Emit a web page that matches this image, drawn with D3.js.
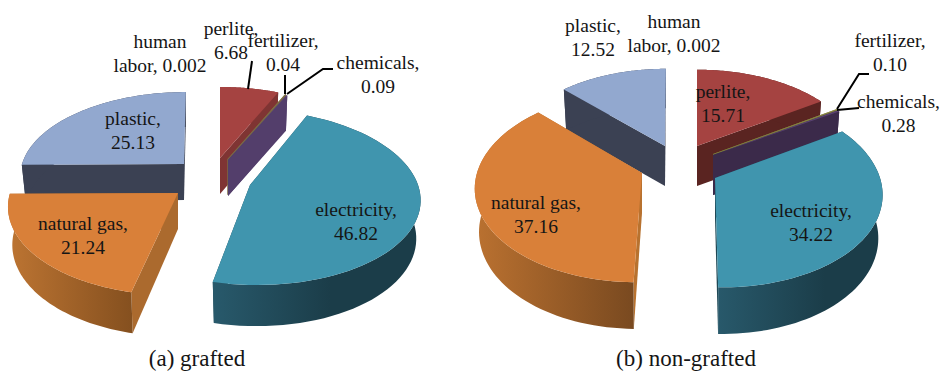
<!DOCTYPE html>
<html>
<head>
<meta charset="utf-8">
<script src="https://cdn.jsdelivr.net/npm/d3@7/dist/d3.min.js"></script>
<style>
html,body{margin:0;padding:0;background:#fff;overflow:hidden}
svg{display:block}
text{font-family:"Liberation Serif","Times New Roman",serif;fill:#151515}
</style>
</head>
<body>
<script>
// Energy share by input (%), listed clockwise from twelve o'clock
const categories = ["human labor","perlite","fertilizer","chemicals","electricity","natural gas","plastic"];
const graftedValues = [0.002,6.68,0.04,0.09,46.82,21.24,25.13];
const nonGraftedValues = [0.002,15.71,0.10,0.28,34.22,37.16,12.52];
const valueDigits = [3,2,2,2,2,2,2];
const captions = ["(a) grafted","(b) non-grafted"];

// Slice styling: top face, outer wall and cut-edge colours for each panel
const faceColors = ["#4f81bd","#a54341","#8f8a4a","#5a4272","#4095ae","#d98039","#92a8cf"];
const wallColors = [
  {edge:["#3b5f8c","#7f3433","#7a6a45","#533e6b","#1f4855","#ab6a2e","#3b4153"],band:["#28596b","#1b3d49","#bc7432","#85501f"]},
  {edge:["#3b5f8c","#5a2421","#7c7a3c","#3b2a4a","#1f4855","#b8722f","#3b4153"],band:["#28596b","#1b3d49","#ba7130","#7a4a20"]}
];

// Draw order, back slices first
const drawOrder = [6,5,0,1,2,3,4];
const perspective = 0.14;
const baseShrink = 0.975;

// Each slice: exploded apex, x/y radius, horizontal lean; one entry per category
const panels = [
  {
    values: graftedValues, depth: 36, rimDepth: 38, captionX: 197, bandX: [[214,330],[10,132]],
    slices: [
      {ax:220,ay:158,rx:161,ry:81,k:0},
      {ax:220,ay:158,rx:161,ry:81,k:0},
      {ax:227.5,ay:159,rx:161,ry:81,k:0},
      {ax:228,ay:160,rx:161,ry:80,k:0},
      {ax:250,ay:185,rx:168,ry:86,k:-6},
      {ax:178,ay:193,rx:168,ry:88,k:2.4},
      {ax:184,ay:164,rx:162,ry:82,k:2}
    ],
    labels: [[160,48],[231,35],[283,47],[378,69],[356,216],[83,230],[133,125]],
    leaders: [
      {slice:1,from:[252,61],via:null,to:[248,89]},
      {slice:2,from:[285,75],via:null,to:[285,94]},
      {slice:3,from:[333,69],via:[323,69],to:[287,94]}
    ]
  },
  {
    values: nonGraftedValues, depth: 40, rimDepth: 43, captionX: 686, bandX: [[717,825],[476,632]],
    slices: [
      {ax:697,ay:146,rx:160,ry:87,k:0},
      {ax:697,ay:146,rx:160,ry:87,k:0},
      {ax:713,ay:154,rx:160,ry:88,k:0},
      {ax:713,ay:155,rx:160,ry:88,k:0},
      {ax:715,ay:178,rx:165,ry:94,k:-6},
      {ax:642,ay:173,rx:165,ry:94,k:4},
      {ax:665,ay:146,rx:158,ry:88,k:1}
    ],
    labels: [[674,28],[723,98],[890,47],[898.5,108],[811,217],[536,209],[593,32]],
    leaders: [
      {slice:2,from:[869,74],via:[859,74],to:[837,109]},
      {slice:3,from:[859,108],via:null,to:[837,110]}
    ]
  }
];

const width = 940, height = 371, labelSize = 19.5, lineGap = 23.5;
const svg = d3.select("body").append("svg").attr("width",width).attr("height",height);
const defs = svg.append("defs");
const pie = d3.pie().sort(null).value(d => d);
const polygon = d3.line();

// Perspective projection of a point on the slice disc; lift is the drop to the base
function project(s, angle, r, lift) {
  const c = Math.cos(angle), sc = 1/(1 + perspective*r*c);
  return [
    s.ax + (s.rx*r*Math.sin(angle) + s.k*r*c)*sc,
    s.ay - s.ry*r*c*sc + lift*sc
  ];
}

function arcPoints(s, a0, a1, r, lift) {
  return d3.range(0, 65).map(i => project(s, a0 + (a1-a0)*i/64, r, lift));
}

function labelLines(name, value, digits) {
  const text = value.toFixed(digits);
  return name === "human labor" ? ["human", `labor, ${text}`] : [`${name},`, text];
}

panels.forEach((panel, p) => {
  const g = svg.append("g");
  const arcs = pie(panel.values);
  const walls = wallColors[p];

  const gradient = (id, x, c0, c1) => {
    const lg = defs.append("linearGradient").attr("id",id).attr("gradientUnits","userSpaceOnUse")
      .attr("x1",x[0]).attr("x2",x[1]).attr("y1",0).attr("y2",0);
    lg.append("stop").attr("offset",0).attr("stop-color",c0);
    lg.append("stop").attr("offset",1).attr("stop-color",c1);
  };
  gradient(`band-e-${p}`, panel.bandX[0], walls.band[0], walls.band[1]);
  gradient(`band-g-${p}`, panel.bandX[1], walls.band[2], walls.band[3]);

  drawOrder.forEach(i => {
    const s = panel.slices[i], a = arcs[i];
    const a0 = a.startAngle, a1 = a.endAngle;
    const top = arcPoints(s, a0, a1, 1, 0), bottom = arcPoints(s, a0, a1, baseShrink, panel.rimDepth);
    const band = i === 4 ? `url(#band-e-${p})` : i === 5 ? `url(#band-g-${p})` : walls.edge[i];
    const apex = [s.ax, s.ay], apexLow = [s.ax, s.ay + panel.depth];

    // Cut edges first, then the rim wall, then the top face over both
    g.append("path").attr("d", polygon([apex, top[64], bottom[64], apexLow]) + "Z").attr("fill", walls.edge[i]);
    g.append("path").attr("d", polygon([apex, top[0], bottom[0], apexLow]) + "Z").attr("fill", walls.edge[i]);
    g.append("path").attr("d", polygon(top.concat(bottom.slice().reverse())) + "Z").attr("fill", band);
    g.append("path").attr("d", polygon([apex].concat(top)) + "Z").attr("fill", faceColors[i]);
  });

  // Leader lines run from the label to the outer rim of their slice
  panel.leaders.forEach(l => {
    const pts = l.via ? [l.from, l.via, l.to] : [l.from, l.to];
    g.append("path").attr("d", polygon(pts)).attr("fill","none")
      .attr("stroke","#000").attr("stroke-width",2);
  });

  categories.forEach((name, i) => {
    const [x, y] = panel.labels[i];
    labelLines(name, panel.values[i], valueDigits[i]).forEach((line, j) => {
      g.append("text").attr("x",x).attr("y",y + j*lineGap)
        .attr("text-anchor","middle").attr("font-size",labelSize).text(line);
    });
  });

  g.append("text").attr("x",panel.captionX).attr("y",366)
    .attr("text-anchor","middle").attr("font-size",23).text(captions[p]);
});
</script>
</body>
</html>
